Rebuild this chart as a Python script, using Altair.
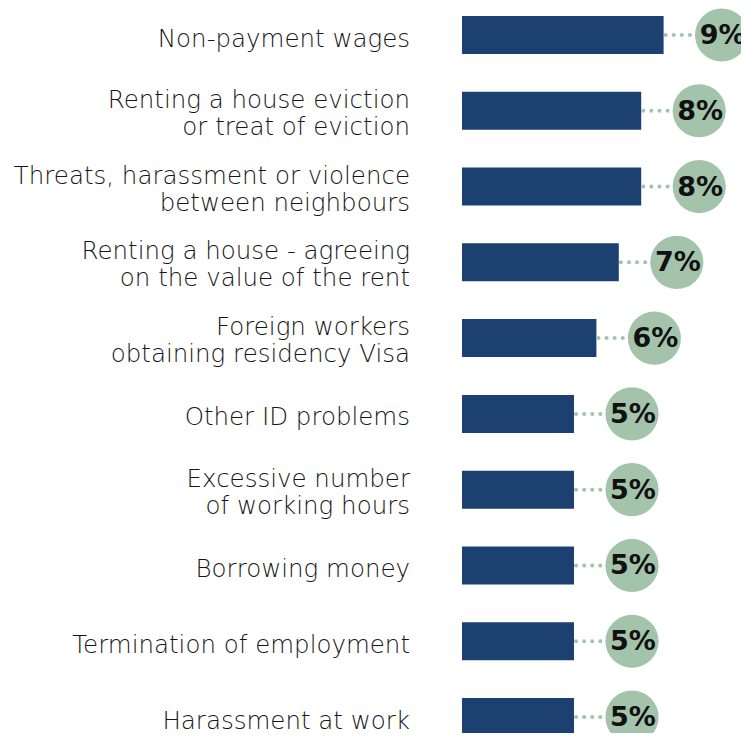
import altair as alt
import pandas as pd

categories = [
    "Non-payment wages",
    "Renting a house eviction|or treat of eviction",
    "Threats, harassment or violence|between neighbours",
    "Renting a house - agreeing|on the value of the rent",
    "Foreign workers|obtaining residency Visa",
    "Other ID problems",
    "Excessive number|of working hours",
    "Borrowing money",
    "Termination of employment",
    "Harassment at work",
]
values = [9, 8, 8, 7, 6, 5, 5, 5, 5, 5]
labels = [f"{v}%" for v in values]

df = pd.DataFrame({"cat": categories, "val": values, "lab": labels,
                   "row": list(range(len(categories)))})

BAR = "#1c4070"
GREEN = "#a3c4ab"

y = alt.Y("row:Q", axis=None,
          scale=alt.Scale(domain=[-0.3563, 9.211], reverse=True, nice=False,
                          zero=False, padding=0))
x = alt.X("val:Q", axis=None,
          scale=alt.Scale(domain=[0, 12.455], nice=False, zero=True, padding=0))

base = alt.Chart(df)

bars = base.mark_bar(color=BAR, size=38, orient="horizontal").encode(x=x, x2=alt.datum(0), y=y)

dots = base.mark_rule(color=GREEN, strokeWidth=4, strokeDash=[0.1, 8],
                      strokeCap="round", xOffset=2, x2Offset=28).encode(
    x=x, x2="val:Q", y=y
)

circles = base.mark_circle(color=GREEN, opacity=1, size=2827, xOffset=58).encode(x=x, y=y)

vals = base.mark_text(font="DejaVu Sans", fontWeight="bold", fontSize=27, color="#111111",
                      align="center", baseline="middle", dx=59, dy=1).encode(
    x=x, y=y, text="lab:N"
)

names_one = base.transform_filter("indexof(datum.cat, '|') < 0").mark_text(
    font="DejaVu Sans", fontWeight=200, fontSize=24.5, color="#161616",
    align="right", baseline="middle", dy=4.5).encode(
    x=alt.value(-52), y=y, text="cat:N"
)

names_two = base.transform_filter("indexof(datum.cat, '|') >= 0").mark_text(
    font="DejaVu Sans", fontWeight=200, fontSize=24.5, color="#161616",
    align="right", baseline="middle", lineBreak="|", lineHeight=27, dy=-10).encode(
    x=alt.value(-52), y=y, text="cat:N"
)

chart = alt.layer(bars, dots, circles, vals, names_one, names_two).properties(
    width=279, height=725,
    autosize=alt.AutoSizeParams(type="none"),
    padding={"left": 454, "top": 0, "right": 0, "bottom": 0},
).configure_view(stroke=None)

chart.save("out.html", embed_options={"renderer": "svg", "actions": False})
